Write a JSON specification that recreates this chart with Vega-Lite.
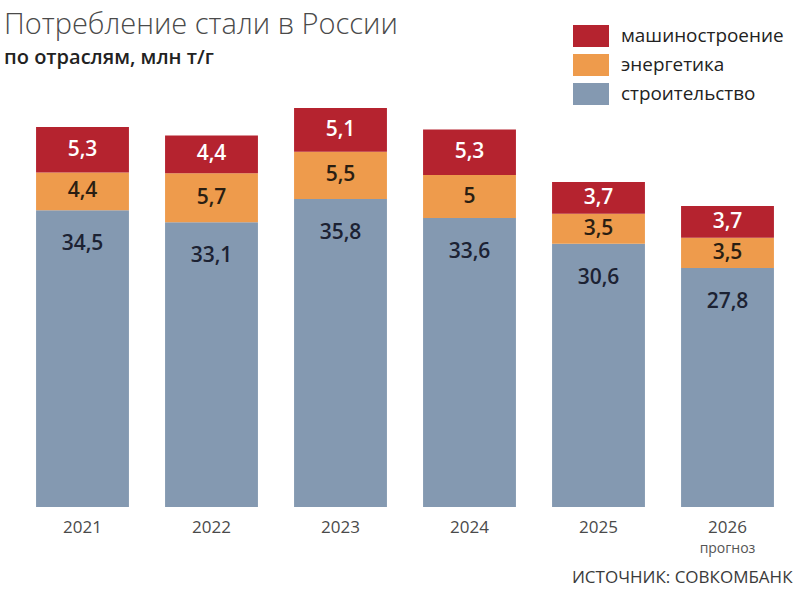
{
  "$schema": "https://vega.github.io/schema/vega-lite/v6.json",
  "width": 774,
  "height": 430,
  "autosize": "none",
  "padding": {"left": 18, "top": 77, "right": 8, "bottom": 85},
  "background": "white",
  "config": {
    "view": {"stroke": null},
    "font": "Open Sans",
    "locale": {"number": {"decimal": ",", "thousands": " ", "grouping": [3], "currency": ["", " ₽"]}}
  },
  "title": {
    "text": "Потребление стали в России",
    "subtitle": "по отраслям, млн т/г",
    "anchor": "start",
    "dx": -14,
    "dy": 64,
    "offset": 14,
    "font": "Open Sans",
    "fontSize": 29,
    "fontWeight": 300,
    "color": "#4a4a4a",
    "subtitleFont": "Open Sans",
    "subtitleFontSize": 20,
    "subtitleFontWeight": 600,
    "subtitleColor": "#222222",
    "subtitlePadding": 8
  },
  "data": {
    "values": [
      {"year": "2021", "sector": "строительство", "k": 1, "value": 34.5},
      {"year": "2021", "sector": "энергетика", "k": 2, "value": 4.4},
      {"year": "2021", "sector": "машиностроение", "k": 3, "value": 5.3},
      {"year": "2022", "sector": "строительство", "k": 1, "value": 33.1},
      {"year": "2022", "sector": "энергетика", "k": 2, "value": 5.7},
      {"year": "2022", "sector": "машиностроение", "k": 3, "value": 4.4},
      {"year": "2023", "sector": "строительство", "k": 1, "value": 35.8},
      {"year": "2023", "sector": "энергетика", "k": 2, "value": 5.5},
      {"year": "2023", "sector": "машиностроение", "k": 3, "value": 5.1},
      {"year": "2024", "sector": "строительство", "k": 1, "value": 33.6},
      {"year": "2024", "sector": "энергетика", "k": 2, "value": 5.0},
      {"year": "2024", "sector": "машиностроение", "k": 3, "value": 5.3},
      {"year": "2025", "sector": "строительство", "k": 1, "value": 30.6},
      {"year": "2025", "sector": "энергетика", "k": 2, "value": 3.5},
      {"year": "2025", "sector": "машиностроение", "k": 3, "value": 3.7},
      {"year": "2026", "sector": "строительство", "k": 1, "value": 27.8},
      {"year": "2026", "sector": "энергетика", "k": 2, "value": 3.5},
      {"year": "2026", "sector": "машиностроение", "k": 3, "value": 3.7}
    ]
  },
  "encoding": {
    "x": {
      "field": "year",
      "type": "nominal",
      "scale": {"paddingInner": 0.28, "paddingOuter": 0.14},
      "axis": {
        "labelAngle": 0,
        "domain": false,
        "ticks": false,
        "labelFontSize": 17,
        "labelColor": "#4a4a4a",
        "labelPadding": 12,
        "title": "ИСТОЧНИК: СОВКОМБАНК",
        "titleAnchor": "end",
        "titleFontSize": 17,
        "titleFontWeight": "normal",
        "titleColor": "#3a3a3a",
        "titlePadding": 34
      }
    }
  },
  "layer": [
    {
      "transform": [
        {"stack": "value", "groupby": ["year"], "sort": [{"field": "k", "order": "ascending"}], "as": ["v0", "v1"]}
      ],
      "mark": {"type": "bar"},
      "encoding": {
        "y": {"field": "v0", "type": "quantitative", "scale": {"domain": [0, 50]}, "axis": null},
        "y2": {"field": "v1"},
        "color": {
          "field": "sector",
          "type": "nominal",
          "scale": {
            "domain": ["машиностроение", "энергетика", "строительство"],
            "range": ["#b5232f", "#ee9b4c", "#8499b1"]
          },
          "legend": {
            "title": null,
            "orient": "none",
            "legendX": 555,
            "legendY": -59,
            "symbolType": "M-1,-0.611H1V0.611H-1Z",
            "symbolSize": 1296,
            "symbolStrokeWidth": 0,
            "symbolOpacity": 1,
            "labelFontSize": 18.9,
            "labelLimit": 300,
            "labelColor": "#222222",
            "labelOffset": 12,
            "rowPadding": 0,
            "padding": 0
          }
        }
      }
    },
    {
      "transform": [
        {"stack": "value", "groupby": ["year"], "sort": [{"field": "k", "order": "ascending"}], "as": ["v0", "v1"]},
        {"filter": "datum.sector !== 'строительство'"}
      ],
      "mark": {
        "type": "text",
        "baseline": "middle",
        "fontSize": 21,
        "fontWeight": 600,
        "dy": {"expr": "(scale('y', datum.v0) - scale('y', datum.v1)) / 2"}
      },
      "encoding": {
        "y": {"field": "v1", "type": "quantitative"},
        "text": {"field": "value", "type": "quantitative", "format": ".1~f"},
        "color": {
          "condition": {"test": "datum.sector === 'машиностроение'", "value": "#ffffff"},
          "value": "#2a1e12"
        }
      }
    },
    {
      "transform": [
        {"stack": "value", "groupby": ["year"], "sort": [{"field": "k", "order": "ascending"}], "as": ["v0", "v1"]},
        {"filter": "datum.sector === 'строительство'"}
      ],
      "mark": {"type": "text", "baseline": "middle", "fontSize": 21, "fontWeight": 600, "dy": 34, "color": "#1c2233"},
      "encoding": {
        "y": {"field": "v1", "type": "quantitative"},
        "text": {"field": "value", "type": "quantitative", "format": ".1~f"}
      }
    },
    {
      "data": {"values": [{"year": "2026", "note": "прогноз"}]},
      "mark": {"type": "text", "baseline": "middle", "fontSize": 14, "dy": 42, "color": "#555555"},
      "encoding": {
        "y": {"datum": 0, "type": "quantitative"},
        "text": {"field": "note"}
      }
    }
  ]
}
